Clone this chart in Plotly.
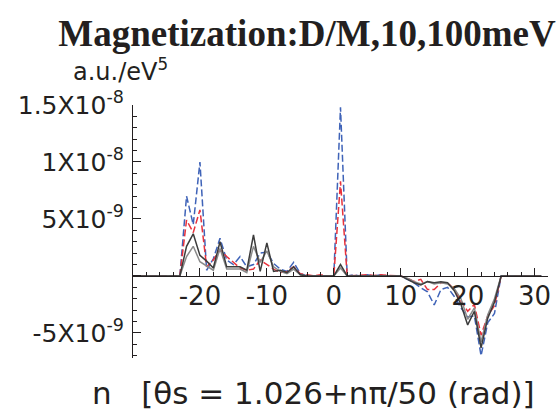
import plotly.graph_objects as go

# n index values
n_vals = list(range(-29, 32))

# series values in units of 1e-9 (a.u./eV^5), for n = -29 .. 31
blue = [0, 0, 0, 0, 0, 0,              # -29..-24
        0, 7.0, 4.5, 10.0, 0.5, 1.5, 3.3, 1.4, 1.0, 1.7,   # -23..-14
        0.8, 1.0, 2.0, 2.1, 1.1, 0.6, 0.4, 1.2, 0.2, 0,    # -13..-4
        0, 0, 0, 0, 14.8, 0, 0.1, 0, 0.1, 0,               # -3..6
        0.1, 0, 0, 0, -0.3, -0.6, -1.05, -1.4, -2.55, -1.2, # 7..16
        -1.0, -1.8, -2.8, -3.6, -3.5, -7.0, -4.1, -3.3, 0, 0, # 17..26
        0, 0, 0, 0, 0]                                      # 27..31
red = [0, 0, 0, 0, 0, 0,
       0, 4.9, 3.8, 5.8, 0.8, 1.4, 2.3, 1.7, 1.2, 0.7,
       0.5, 0.6, 1.4, 1.0, 0.6, 0.3, 0.4, 0.8, 0.2, 0.1,
       0, 0.1, 0, 0, 8.3, 0, 0.05, 0.05, 0.1, 0.05,
       0.1, 0.05, 0, 0, -0.2, -0.5, -0.3, -1.2, -1.2, -0.6,
       -0.6, -1.2, -2.2, -3.1, -2.5, -5.2, -3.5, -2.6, 0, 0,
       0, 0, 0, 0, 0]
gray_dark = [0, 0, 0, 0, 0, 0,
             0, 2.6, 3.7, 1.8, 1.3, 0.7, 3.0, 0.8, 0.8, 0.8,
             0.5, 3.6, 0.4, 2.9, 0.4, 0.5, 0.3, 0.8, 0.1, 0,
             0, 0, 0, 0, 1.0, 0, 0, 0, 0, 0,
             0, 0, 0, 0, -0.3, -0.6, -0.8, -0.5, -0.6, -0.5,
             -0.6, -1.3, -2.5, -4.3, -3.1, -6.3, -3.7, -2.3, 0, 0,
             0, 0, 0, 0, 0]
gray_light = [0, 0, 0, 0, 0, 0,
              0, 1.7, 2.6, 1.25, 0.9, 0.5, 2.4, 0.6, 0.6, 0.6,
              0.3, 2.6, 1.2, 2.2, 0.8, 0.4, 0.2, 0.6, 0.1, 0,
              0, 0, 0, 0, 0.7, 0, 0, 0, 0, 0,
              0, 0, 0, 0, -0.2, -0.5, -0.7, -0.5, -0.7, -0.6,
              -0.7, -1.1, -2.0, -3.8, -2.8, -5.8, -3.4, -2.0, 0, 0,
              0, 0, 0, 0, 0]

scale = 1e-9
x_ticks = [-20, -10, 0, 10, 20, 30]
y_ticks = [-5e-9, 0, 5e-9, 1e-8, 1.5e-8]
y_ticktext = ['-5X10<sup>-9</sup>', '', '5X10<sup>-9</sup>',
              '1X10<sup>-8</sup>', '1.5X10<sup>-8</sup>']

x_range = [-30, 32]
y_range = [-7.2e-9, 1.5e-8]

fig = go.Figure()
fig.add_trace(go.Scatter(x=n_vals, y=[v * scale for v in blue], mode='lines',
                         line=dict(color='#3f63b8', width=1.5, dash='7px,3px')))
fig.add_trace(go.Scatter(x=n_vals, y=[v * scale for v in red], mode='lines',
                         line=dict(color='#e8323c', width=1.5, dash='7px,3px')))
fig.add_trace(go.Scatter(x=n_vals, y=[v * scale for v in gray_light], mode='lines',
                         line=dict(color='#8a8a8a', width=1.5)))
fig.add_trace(go.Scatter(x=n_vals, y=[v * scale for v in gray_dark], mode='lines',
                         line=dict(color='#3c3c3c', width=1.5)))

txt = '#231f20'
sans = 'DejaVu Sans, Verdana, sans-serif'
zero_pos = (0 - y_range[0]) / (y_range[1] - y_range[0])

fig.update_layout(
    width=559, height=419,
    margin=dict(l=133, r=11, t=105, b=61, autoexpand=False),
    paper_bgcolor='white', plot_bgcolor='white',
    showlegend=False,
    font=dict(family=sans, color=txt, size=26),
    title=dict(text='<b>Magnetization:D/M,10,100meV</b>',
               font=dict(family='Liberation Serif, Times New Roman, serif', size=37, color=txt),
               x=307 / 559, xanchor='center', xref='container',
               y=1 - 33 / 419, yanchor='middle', yref='container'),
    xaxis=dict(range=x_range, anchor='free', position=zero_pos, automargin=False,
               showline=True, linecolor=txt, linewidth=1.2,
               ticks='inside', ticklen=8, tickcolor=txt, tickwidth=1,
               tickvals=x_ticks, ticktext=[str(v) for v in x_ticks],
               tickfont=dict(size=26, family=sans), ticklabelstandoff=-3,
               minor=dict(dtick=2, tick0=0, ticks='inside', ticklen=4, tickcolor=txt),
               showgrid=False, zeroline=False),
    yaxis=dict(range=y_range, automargin=False,
               showline=True, linecolor=txt, linewidth=1.2,
               ticks='inside', ticklen=8, tickcolor=txt, tickwidth=1,
               tickvals=y_ticks, ticktext=y_ticktext,
               tickfont=dict(size=25, family=sans), ticklabelstandoff=3,
               minor=dict(dtick=1e-9, tick0=0, ticks='inside', ticklen=4, tickcolor=txt),
               showgrid=False, zeroline=False),
    annotations=[
        dict(text='a.u./eV<sup>5</sup>', xref='paper', yref='paper',
             x=-0.03, y=1.14, xanchor='center', yanchor='middle',
             showarrow=False, font=dict(size=24, color=txt, family=sans)),
        dict(text='n   [θs = 1.026+nπ/50 (rad)]', xref='paper', yref='paper',
             x=0.435, y=-0.14, xanchor='center', yanchor='middle',
             showarrow=False, font=dict(size=31, color=txt, family=sans)),
    ],
)

fig.write_html("out.html", config={'displayModeBar': False},
               post_script="document.body.style.margin='0';")
